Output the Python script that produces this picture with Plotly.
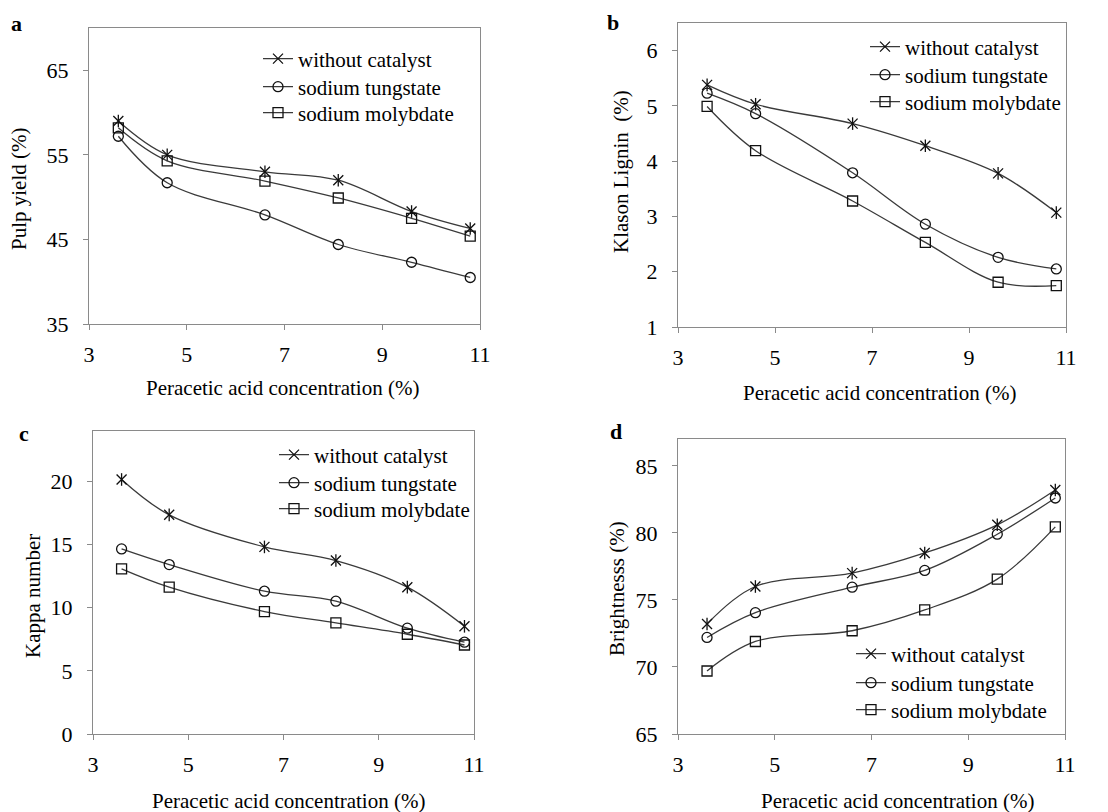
import plotly.graph_objects as go

W, H = 1108, 812

conc = [3.6, 4.6, 6.6, 8.1, 9.6, 10.8]
series_names = ["without catalyst", "sodium tungstate", "sodium molybdate"]

pulp_none = [59.0, 55.0, 53.0, 52.0, 48.3, 46.3]
pulp_tung = [57.2, 51.7, 47.9, 44.4, 42.3, 40.5]
pulp_moly = [58.2, 54.3, 51.9, 49.9, 47.5, 45.4]

lignin_none = [5.38, 5.03, 4.68, 4.28, 3.78, 3.07]
lignin_tung = [5.23, 4.86, 3.79, 2.86, 2.26, 2.05]
lignin_moly = [4.99, 4.19, 3.28, 2.53, 1.81, 1.75]

kappa_none = [20.16, 17.36, 14.82, 13.74, 11.63, 8.53]
kappa_tung = [14.66, 13.42, 11.31, 10.52, 8.38, 7.27]
kappa_moly = [13.08, 11.63, 9.70, 8.80, 7.90, 7.05]

bright_none = [73.2, 76.0, 77.0, 78.5, 80.6, 83.2]
bright_tung = [72.2, 74.05, 75.95, 77.2, 79.9, 82.6]
bright_moly = [69.7, 71.9, 72.7, 74.25, 76.55, 80.45]

x_title = "Peracetic acid concentration (%)"
y_titles = ["Pulp yield (%)", "Klason Lignin  (%)", "Kappa number", "Brightnesss (%)"]
panel_letters = ["a", "b", "c", "d"]
y_ranges = [[35, 70], [1, 6.5], [0, 24], [65, 87]]
y_dticks = [10, 1, 5, 5]

panels = [
    (pulp_none, pulp_tung, pulp_moly),
    (lignin_none, lignin_tung, lignin_moly),
    (kappa_none, kappa_tung, kappa_moly),
    (bright_none, bright_tung, bright_moly),
]

FONT = "Liberation Serif"
AXC = "#8a8a8a"
LINEC = "#3a3a3a"

# plot-area pixel boxes (left, right, top, bottom)
boxes = [(89, 480, 28, 324), (678, 1066, 23, 327), (93, 474, 431, 734), (678, 1065, 439, 734)]
# legend text start x and row centres y
legend_text_x = [299, 906, 315, 892]
legend_rows = [(59, 87, 113), (47, 75, 102), (455, 483, 509), (654, 683, 710)]
xtitle_pos = [(282, 388), (879, 393), (288, 801), (897, 801)]
ytitle_pos = [(19, 189), (621, 172), (33, 596), (617, 589)]
letter_pos = [(16, 24), (613, 22), (24, 434), (616, 431)]

fig = go.Figure()
symbols = ["x-thin-open", "circle-open", "square-open"]
sizes = [10, 10, 10]

layout = dict(
    width=W, height=H, margin=dict(l=0, r=0, t=0, b=0, autoexpand=False),
    paper_bgcolor="white", plot_bgcolor="white",
    font=dict(family=FONT, color="black", size=21),
    annotations=[],
)

for i, ys in enumerate(panels):
    xa = "x" if i == 0 else f"x{i+1}"
    ya = "y" if i == 0 else f"y{i+1}"
    for j, yv in enumerate(ys):
        k = i * 3 + j + 1
        lg = "legend" if k == 1 else f"legend{k}"
        fig.add_trace(go.Scatter(
            x=conc, y=yv, name=series_names[j], mode="lines+markers",
            xaxis=xa, yaxis=ya, legend=lg,
            line=dict(color=LINEC, width=1.3, shape="spline", smoothing=1),
            marker=dict(symbol=symbols[j], size=sizes[j], color="#111",
                        line=dict(color="#111", width=1.3)),
        ))
        if j == 0:
            fig.add_trace(go.Scatter(
                x=conc, y=yv, mode="markers", showlegend=False,
                xaxis=xa, yaxis=ya, hoverinfo="skip",
                marker=dict(symbol="line-ns-open", size=9, color="#111",
                            line=dict(color="#111", width=1.3)),
            ))
        layout[lg] = dict(
            x=(legend_text_x[i] - 41) / W, y=1 - legend_rows[i][j] / H,
            xanchor="left", yanchor="middle",
            bgcolor="rgba(0,0,0,0)", borderwidth=0, itemwidth=30,
            font=dict(family=FONT, size=21, color="black"),
        )

for i in range(4):
    l, r, t, b = boxes[i]
    xk = "xaxis" if i == 0 else f"xaxis{i+1}"
    yk = "yaxis" if i == 0 else f"yaxis{i+1}"
    anchor_x = "y" if i == 0 else f"y{i+1}"
    anchor_y = "x" if i == 0 else f"x{i+1}"
    layout[xk] = dict(
        domain=[l / W, r / W], anchor=anchor_x, range=[3, 11], dtick=2, tick0=3,
        showline=True, linecolor=AXC, linewidth=1.3, mirror=True,
        ticks="outside", ticklen=5, tickcolor=AXC, tickwidth=1.3,
        showgrid=False, zeroline=False, ticklabelstandoff=5, automargin=False,
        tickfont=dict(family=FONT, size=22, color="black"),
    )
    layout[yk] = dict(
        domain=[1 - b / H, 1 - t / H], anchor=anchor_y, range=y_ranges[i],
        dtick=y_dticks[i], tick0=y_ranges[i][0],
        showline=True, linecolor=AXC, linewidth=1.3, mirror=True,
        ticks="outside", ticklen=5, tickcolor=AXC, tickwidth=1.3,
        showgrid=False, zeroline=False, ticklabelstandoff=10, automargin=False,
        tickfont=dict(family=FONT, size=22, color="black"),
    )
    tx, ty = xtitle_pos[i]
    layout["annotations"].append(dict(
        text=x_title, x=tx / W, y=1 - ty / H, xref="paper", yref="paper",
        showarrow=False, xanchor="center", yanchor="middle",
        font=dict(family=FONT, size=21, color="black"),
    ))
    tx, ty = ytitle_pos[i]
    layout["annotations"].append(dict(
        text=y_titles[i], x=tx / W, y=1 - ty / H, xref="paper", yref="paper",
        showarrow=False, xanchor="center", yanchor="middle", textangle=-90,
        font=dict(family=FONT, size=21, color="black"),
    ))
    tx, ty = letter_pos[i]
    layout["annotations"].append(dict(
        text="<b>" + panel_letters[i] + "</b>", x=tx / W, y=1 - ty / H,
        xref="paper", yref="paper", showarrow=False,
        xanchor="center", yanchor="middle",
        font=dict(family=FONT, size=22, color="black"),
    ))

fig.update_layout(**layout)
fig.write_html("out.html", config={"displayModeBar": False},
               post_script="document.body.style.margin='0';")
